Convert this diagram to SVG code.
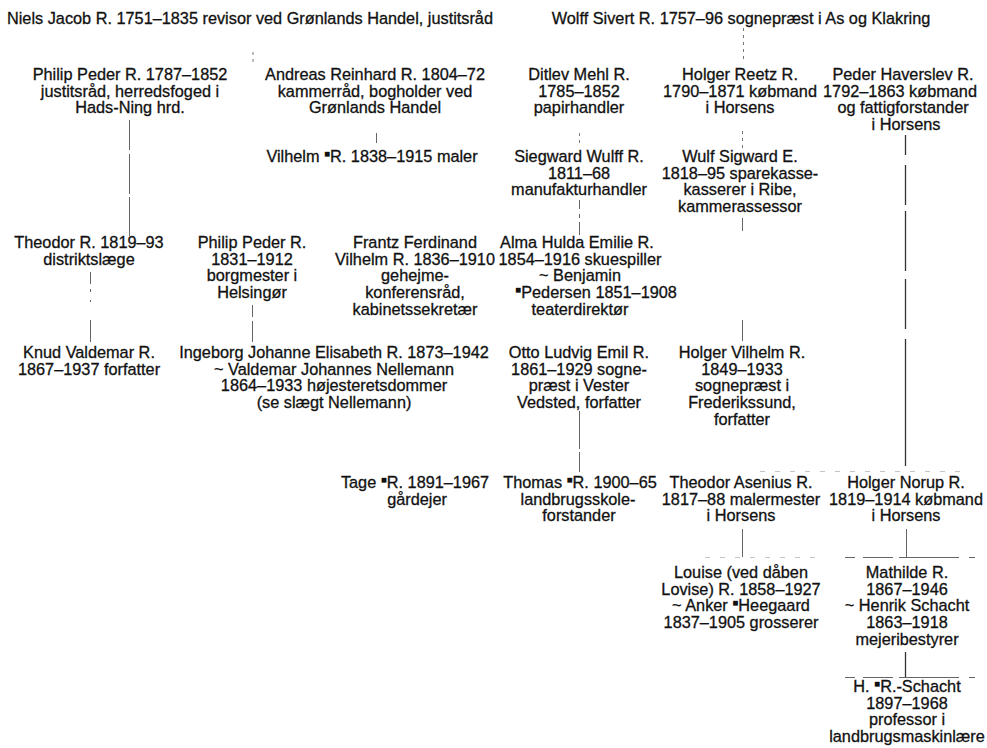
<svg xmlns="http://www.w3.org/2000/svg" width="987" height="748" viewBox="0 0 987 748">
<style>
text{font-family:"Liberation Sans",Arial,Helvetica,sans-serif;font-size:16.3px;fill:#111;stroke:#111;stroke-width:0.3px;text-anchor:middle}
.m{font-size:10px;stroke-width:0}
.c{stroke:#666;stroke-width:1;fill:none}
.d{stroke:#777;stroke-width:1;stroke-dasharray:3 4;fill:none}
.h{stroke:#c4c4c4;stroke-width:1;stroke-dasharray:5 10;fill:none}
.k{stroke:#333;stroke-width:1.3;fill:none}
</style>
<rect width="987" height="748" fill="#fff"/>
<g id="connectors">
<line class="d" x1="253" y1="52" x2="253" y2="62"/>
<line class="c" x1="129.5" y1="120" x2="129.5" y2="236" stroke-dasharray="30 4 40 3 60"/>
<line class="c" x1="90.5" y1="272" x2="90.5" y2="342" stroke-dasharray="12 5 3 8 2 18 30"/>
<line class="c" x1="376.5" y1="133" x2="376.5" y2="143"/>
<line class="c" x1="252.5" y1="305" x2="252.5" y2="342" stroke-dasharray="12 4 26"/>
<line class="d" x1="743.5" y1="28" x2="743.5" y2="63"/>
<line class="d" x1="742.5" y1="131" x2="742.5" y2="149"/>
<line class="d" x1="579.5" y1="133" x2="579.5" y2="146"/>
<line class="c" x1="579.5" y1="200" x2="579.5" y2="235" stroke-dasharray="9 5 4 4 16"/>
<line class="c" x1="742.5" y1="218" x2="742.5" y2="231"/>
<line class="c" x1="742.5" y1="320" x2="742.5" y2="341"/>
<line class="k" x1="905.5" y1="135" x2="905.5" y2="466" stroke-dasharray="20 10 40 6 60 8 50 10 129"/>
<line class="c" x1="579.5" y1="411" x2="579.5" y2="472" stroke-dasharray="38 3 22"/>
<line class="c" x1="742.5" y1="529" x2="742.5" y2="557"/>
<line class="c" x1="906.5" y1="529" x2="906.5" y2="557"/>
<line class="k" x1="905.5" y1="652" x2="905.5" y2="678"/>
<line class="h" x1="760" y1="471.5" x2="965" y2="471.5"/>
<line class="h" x1="705" y1="557.5" x2="820" y2="557.5"/>
<line class="c" x1="845" y1="557.5" x2="975" y2="557.5" stroke="#aaa" stroke-dasharray="10 8 30 6 60"/>
<line class="c" x1="845" y1="677.5" x2="975" y2="677.5" stroke="#aaa" stroke-dasharray="10 8 30 6 60"/>
</g>
<g id="n1"><text x="250" y="24">Niels Jacob R. 1751–1835 revisor ved Grønlands Handel, justitsråd</text></g>
<g id="n2"><text x="741" y="24">Wolff Sivert R. 1757–96 sognepræst i As og Klakring</text></g>
<g id="n3"><text x="130" y="80">Philip Peder R. 1787–1852</text><text x="130" y="96.7">justitsråd, herredsfoged i</text><text x="130" y="113.4">Hads-Ning hrd.</text></g>
<g id="n4"><text x="375" y="80">Andreas Reinhard R. 1804–72</text><text x="375" y="96.7">kammerråd, bogholder ved</text><text x="375" y="113.4">Grønlands Handel</text></g>
<g id="n5"><text x="579" y="80">Ditlev Mehl R.</text><text x="579" y="96.7">1785–1852</text><text x="579" y="113.4">papirhandler</text></g>
<g id="n6"><text x="740" y="80">Holger Reetz R.</text><text x="740" y="96.7">1790–1871 købmand</text><text x="740" y="113.4">i Horsens</text></g>
<g id="n7"><text x="903" y="80">Peder Haverslev R.</text><text x="900" y="96.7">1792–1863 købmand</text><text x="903" y="113.4">og fattigforstander</text><text x="906" y="130.1">i Horsens</text></g>
<g id="n8"><text x="372" y="162">Vilhelm <tspan class="m" dy="-5">■</tspan><tspan dy="5">R. 1838–1915 maler</tspan></text></g>
<g id="n9"><text x="579" y="162">Siegward Wulff R.</text><text x="579" y="178.7">1811–68</text><text x="579" y="195.4">manufakturhandler</text></g>
<g id="n10"><text x="740" y="162">Wulf Sigward E.</text><text x="740" y="178.7">1818–95 sparekasse-</text><text x="740" y="195.4">kasserer i Ribe,</text><text x="740" y="212.1">kammerassessor</text></g>
<g id="n11"><text x="89" y="248">Theodor R. 1819–93</text><text x="89" y="264.7">distriktslæge</text></g>
<g id="n12"><text x="252" y="248">Philip Peder R.</text><text x="252" y="264.7">1831–1912</text><text x="252" y="281.4">borgmester i</text><text x="252" y="298.1">Helsingør</text></g>
<g id="n13"><text x="415" y="248">Frantz Ferdinand</text><text x="415" y="264.7">Vilhelm R. 1836–1910</text><text x="415" y="281.4">gehejme-</text><text x="415" y="298.1">konferensråd,</text><text x="415" y="314.8">kabinetssekretær</text></g>
<g id="n14"><text x="577" y="248">Alma Hulda Emilie R.</text><text x="580" y="264.7">1854–1916 skuespiller</text><text x="580" y="281.4">~ Benjamin</text><text x="596" y="298.1"><tspan class="m" dy="-5">■</tspan><tspan dy="5">Pedersen 1851–1908</tspan></text><text x="580" y="314.8">teaterdirektør</text></g>
<g id="n15"><text x="89" y="358">Knud Valdemar R.</text><text x="89" y="374.7">1867–1937 forfatter</text></g>
<g id="n16"><text x="334" y="358">Ingeborg Johanne Elisabeth R. 1873–1942</text><text x="334" y="374.7">~ Valdemar Johannes Nellemann</text><text x="334" y="391.4">1864–1933 højesteretsdommer</text><text x="334" y="408.1">(se slægt Nellemann)</text></g>
<g id="n17"><text x="579" y="358">Otto Ludvig Emil R.</text><text x="579" y="374.7">1861–1929 sogne-</text><text x="579" y="391.4">præst i Vester</text><text x="579" y="408.1">Vedsted, forfatter</text></g>
<g id="n18"><text x="742" y="358">Holger Vilhelm R.</text><text x="742" y="374.7">1849–1933</text><text x="742" y="391.4">sognepræst i</text><text x="742" y="408.1">Frederikssund,</text><text x="742" y="424.8">forfatter</text></g>
<g id="n19"><text x="415" y="488">Tage <tspan class="m" dy="-5">■</tspan><tspan dy="5">R. 1891–1967</tspan></text><text x="417" y="504.7">gårdejer</text></g>
<g id="n20"><text x="580" y="488">Thomas <tspan class="m" dy="-5">■</tspan><tspan dy="5">R. 1900–65</tspan></text><text x="578" y="504.7">landbrugsskole-</text><text x="579" y="521.4">forstander</text></g>
<g id="n21"><text x="741" y="488">Theodor Asenius R.</text><text x="741" y="504.7">1817–88 malermester</text><text x="741" y="521.4">i Horsens</text></g>
<g id="n22"><text x="906" y="488">Holger Norup R.</text><text x="906" y="504.7">1819–1914 købmand</text><text x="906" y="521.4">i Horsens</text></g>
<g id="n23"><text x="741" y="578">Louise (ved dåben</text><text x="741" y="594.7">Lovise) R. 1858–1927</text><text x="741" y="611.4">~ Anker <tspan class="m" dy="-5">■</tspan><tspan dy="5">Heegaard</tspan></text><text x="741" y="628.1">1837–1905 grosserer</text></g>
<g id="n24"><text x="907" y="578">Mathilde R.</text><text x="907" y="594.7">1867–1946</text><text x="907" y="611.4">~  Henrik Schacht</text><text x="907" y="628.1">1863–1918</text><text x="907" y="644.8">mejeribestyrer</text></g>
<g id="n25"><text x="907" y="692">H. <tspan class="m" dy="-5">■</tspan><tspan dy="5">R.-Schacht</tspan></text><text x="907" y="708.7">1897–1968</text><text x="907" y="725.4">professor i</text><text x="907" y="742.1">landbrugsmaskinlære</text></g>
</svg>
